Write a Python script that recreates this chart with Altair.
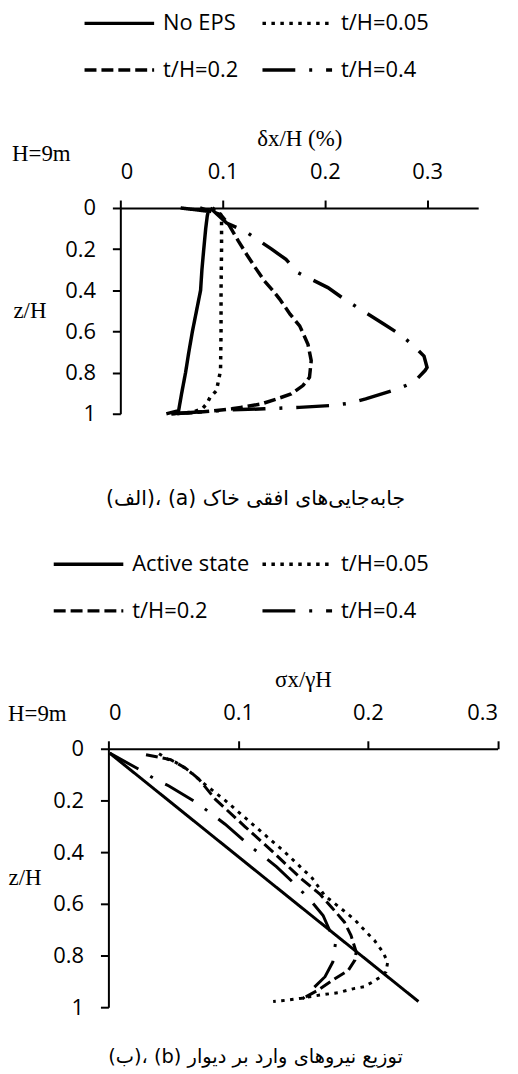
import altair as alt
import pandas as pd

# ---------------- Panel (a): horizontal soil displacement ----------------
A_SERIES = ["No EPS", "t/H=0.05", "t/H=0.2", "t/H=0.4"]

a_noeps_x = [0.059, 0.086, 0.085, 0.0835, 0.0816, 0.0798, 0.0785, 0.0745, 0.0705, 0.067, 0.0638, 0.060, 0.057, 0.045]
a_noeps_z = [0.0, 0.016, 0.04, 0.1, 0.2, 0.3, 0.4, 0.5, 0.6, 0.7, 0.8, 0.9, 0.985, 1.0]

a_t005_x = [0.09, 0.098, 0.099, 0.099, 0.0985, 0.0985, 0.098, 0.094, 0.0878, 0.0845, 0.080, 0.070, 0.055]
a_t005_z = [0.0, 0.03, 0.06, 0.2, 0.4, 0.6, 0.79, 0.888, 0.92, 0.952, 0.976, 0.993, 1.0]

a_t02_x = [0.078, 0.098, 0.106, 0.1155, 0.1236, 0.132, 0.141, 0.1495, 0.156, 0.166, 0.1754, 0.1835,
           0.1867, 0.185, 0.1786, 0.167, 0.153, 0.138, 0.118, 0.109, 0.09, 0.07, 0.05]
a_t02_z = [0.0, 0.032, 0.08, 0.161, 0.226, 0.29, 0.355, 0.403, 0.444, 0.516, 0.573, 0.662,
           0.742, 0.823, 0.863, 0.904, 0.928, 0.952, 0.969, 0.976, 0.986, 0.995, 1.0]

a_t04_x = [0.088, 0.104, 0.122, 0.148, 0.162, 0.174, 0.203, 0.217, 0.232, 0.258, 0.273, 0.285, 0.297,
           0.300, 0.298, 0.287, 0.271, 0.240, 0.224, 0.206, 0.175, 0.159, 0.141, 0.109, 0.08, 0.05]
a_t04_z = [0.0, 0.073, 0.113, 0.2, 0.25, 0.315, 0.387, 0.436, 0.484, 0.565, 0.613, 0.661, 0.72,
           0.775, 0.79, 0.847, 0.88, 0.928, 0.949, 0.96, 0.969, 0.972, 0.976, 0.981, 0.99, 1.0]

# ---------------- Panel (b): lateral pressure on the wall ----------------
B_SERIES = ["Active state", "t/H=0.05", "t/H=0.2", "t/H=0.4"]

b_active_x = [0.001, 0.123, 0.239]
b_active_z = [0.017, 0.51, 0.978]

b_t005_x = [0.039, 0.0455, 0.052, 0.058, 0.063, 0.070, 0.080, 0.090, 0.113, 0.136, 0.157, 0.1667, 0.178,
            0.190, 0.1995, 0.205, 0.2115, 0.2153, 0.214, 0.210, 0.2038, 0.197, 0.190, 0.177, 0.163,
            0.149, 0.1336, 0.127]
b_t005_z = [0.019, 0.04, 0.053, 0.071, 0.09, 0.12, 0.16, 0.2, 0.3, 0.4, 0.5, 0.568, 0.613,
            0.662, 0.713, 0.741, 0.786, 0.825, 0.863, 0.882, 0.902, 0.921, 0.927, 0.944, 0.953,
            0.965, 0.975, 0.978]

b_t02_x = [0.029, 0.048, 0.0595, 0.0697, 0.0825, 0.105, 0.127, 0.148, 0.163, 0.172, 0.182, 0.187,
           0.191, 0.190, 0.185, 0.173, 0.162, 0.150]
b_t02_z = [0.023, 0.042, 0.075, 0.117, 0.196, 0.3, 0.4, 0.5, 0.562, 0.613, 0.671, 0.722,
           0.786, 0.818, 0.857, 0.895, 0.933, 0.966]

b_t04_x = [0.001, 0.024, 0.035, 0.0467, 0.068, 0.079, 0.090, 0.1105, 0.119, 0.1297, 0.145, 0.157,
           0.1655, 0.175, 0.173, 0.167, 0.150, 0.145]
b_t04_z = [0.017, 0.081, 0.115, 0.144, 0.209, 0.25, 0.292, 0.382, 0.414, 0.457, 0.53, 0.594,
           0.645, 0.754, 0.825, 0.882, 0.966, 0.975]

DASHES = [[1, 0], [3.5, 5.5], [12, 5], [33, 14, 3, 14]]


def frame(names, xs, zs):
    rows = []
    for name, xv, zv in zip(names, xs, zs):
        for i, (x, z) in enumerate(zip(xv, zv)):
            rows.append({"series": name, "x": x, "z": z, "idx": i})
    return pd.DataFrame(rows)


df_a = frame(A_SERIES, [a_noeps_x, a_t005_x, a_t02_x, a_t04_x], [a_noeps_z, a_t005_z, a_t02_z, a_t04_z])
df_b = frame(B_SERIES, [b_active_x, b_t005_x, b_t02_x, b_t04_x], [b_active_z, b_t005_z, b_t02_z, b_t04_z])

Z_TICKS = [0, 0.2, 0.4, 0.6, 0.8, 1]


def panel(df, names, xmax, xticks, xtitle, width, height, x_range, y_offset, sw, legend_x, col_pad,
          zh_x, h9_x, h9_y, caption, cap_y, cap_size):
    xscale = alt.Scale(domain=[0, xmax], nice=False, zero=False, range=x_range)
    lines = alt.Chart(df).mark_line(color="black", strokeWidth=sw).encode(
        x=alt.X("x:Q", scale=xscale,
                axis=alt.Axis(orient="top", values=xticks, format=".1~f", title=xtitle, titlePadding=10)),
        y=alt.Y("z:Q",
                scale=alt.Scale(domain=[0, 1], reverse=True, nice=False),
                axis=alt.Axis(values=Z_TICKS, format=".1~f", title="z/H", titleAngle=0,
                              titleAlign="left", titleBaseline="middle", offset=y_offset,
                              titleX=zh_x, titleY=height / 2)),
        strokeDash=alt.StrokeDash(
            "series:N",
            scale=alt.Scale(domain=names, range=DASHES),
            legend=alt.Legend(title=None, orient="none", legendX=legend_x, legendY=-197.7,
                              direction="horizontal", columns=2, padding=0,
                              symbolType="M-3.5,0H3.5", symbolSize=400,
                              symbolStrokeWidth=3.5, symbolStrokeColor="black",
                              labelFont="Open Sans", labelFontSize=22, labelColor="black",
                              labelOffset=32, columnPadding=col_pad, rowPadding=24,
                              labelLimit=400)),
        order="idx:Q",
    )
    h9 = alt.Chart(pd.DataFrame({"t": ["H=9m"]})).mark_text(
        font="Liberation Serif", fontSize=23, align="left", baseline="alphabetic", color="black"
    ).encode(text="t:N", x=alt.value(h9_x), y=alt.value(h9_y))
    cap = alt.Chart(pd.DataFrame({"t": [caption]})).mark_text(
        font="DejaVu Sans", fontSize=cap_size, align="center", baseline="middle", color="black", dir="rtl"
    ).encode(text="t:N", x=alt.value(136), y=alt.value(cap_y))
    return alt.layer(lines, h9, cap).properties(width=width, height=height)


chart_a = panel(df_a, A_SERIES, 0.35, [0, 0.1, 0.2, 0.3], "δx/H (%)", 360, 207, [0, 360], 0, 3.5,
                -13, 17, -108, -109, -47,
                "(الف)، (a) جابه‌جایی‌های افقی خاک", 293, 20.5)
chart_b = panel(df_b, B_SERIES, 0.3, [0, 0.1, 0.2, 0.3], "σx/γH", 379.5, 260, [-12, 379.5], 12, 3,
                -44, 6, -101, -113, -28,
                "(ب)، (b) توزیع نیروهای وارد بر دیوار", 310, 19.5)

chart = alt.concat(chart_a, chart_b, columns=1, spacing=42).resolve_scale(
    x="independent", y="independent", strokeDash="independent"
).properties(padding=0).configure_view(stroke=None).configure_axis(
    domainColor="black", domainWidth=2, tickColor="black", tickWidth=2, tickSize=8,
    labelFont="Open Sans", labelFontSize=22, labelColor="black", labelPadding=16.5,
    titleFont="Liberation Serif", titleFontSize=23, titleFontWeight="normal", titleColor="black",
    grid=False,
).configure_axisLeft(labelPadding=17)

chart.save("out.html", embed_options={"renderer": "svg", "actions": False})
